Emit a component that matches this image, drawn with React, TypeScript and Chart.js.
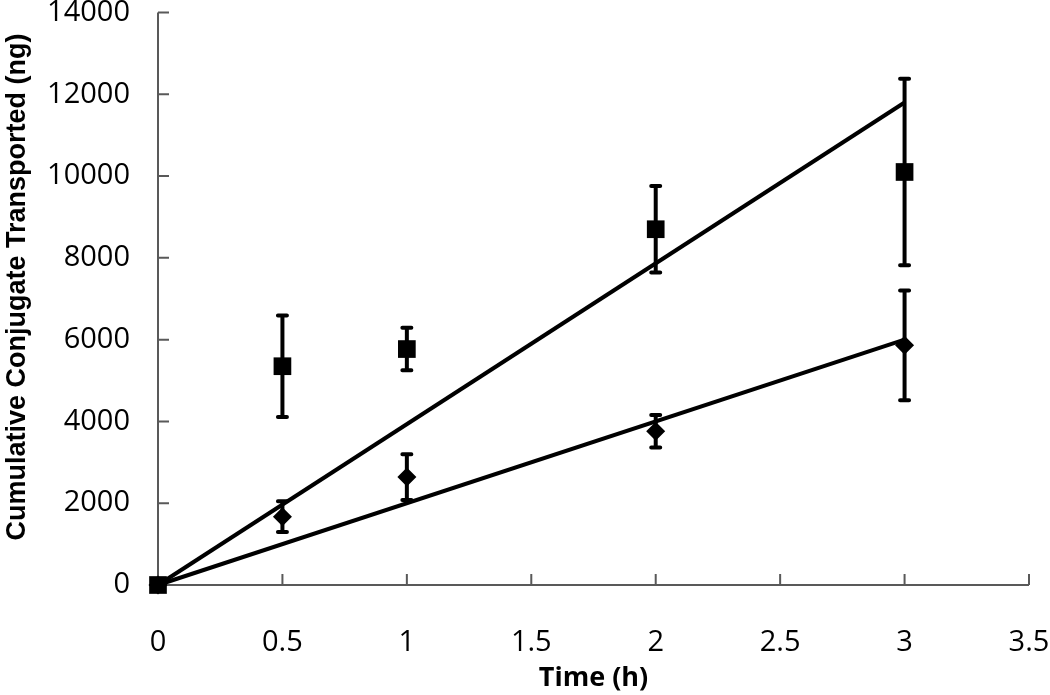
import { useEffect, useRef } from "react";
import { Chart, registerables } from "chart.js";

Chart.register(...registerables);

// Time points (h)
const times = [0, 0.5, 1, 2, 3];
// Square series: mean and error (ng)
const squareMeans = [0, 5350, 5770, 8700, 10100];
const squareErrors = [0, 1240, 520, 1060, 2280];
// Diamond series: mean and error (ng)
const diamondMeans = [0, 1670, 2640, 3760, 5860];
const diamondErrors = [0, 375, 560, 400, 1340];
// Linear trend lines (end points)
const fitTimes = [0, 3];
const squareFit = [0, 11800];
const diamondFit = [0, 6000];
// Axis ranges
const xMin = 0;
const xMax = 3.5;
const xStep = 0.5;
const yMin = 0;
const yMax = 14000;
const yStep = 2000;
const yTitle = "Cumulative Conjugate Transported (ng)";
const xTitle = "Time (h)";

const AXIS_COLOR = "#595959";

const errorBarPlugin = {
  id: "errorBars",
  afterDatasetsDraw(chart: any) {
    const { ctx, scales } = chart;
    const xs = scales.x;
    const ys = scales.y;
    const groups = [
      { means: squareMeans, errs: squareErrors },
      { means: diamondMeans, errs: diamondErrors },
    ];
    ctx.save();
    ctx.strokeStyle = "#000";
    ctx.lineWidth = 4;
    groups.forEach((g) => {
      times.forEach((t, i) => {
        const e = g.errs[i];
        if (!e) return;
        const px = xs.getPixelForValue(t);
        const top = ys.getPixelForValue(g.means[i] + e);
        const bot = ys.getPixelForValue(g.means[i] - e);
        ctx.lineCap = "butt";
        ctx.beginPath();
        ctx.moveTo(px, top);
        ctx.lineTo(px, bot);
        ctx.stroke();
        ctx.lineCap = "round";
        ctx.beginPath();
        ctx.moveTo(px - 4.5, top);
        ctx.lineTo(px + 4.5, top);
        ctx.moveTo(px - 4.5, bot);
        ctx.lineTo(px + 4.5, bot);
        ctx.stroke();
      });
    });
    ctx.restore();
  },
};

const axesPlugin = {
  id: "innerAxes",
  beforeDatasetsDraw(chart: any) {
    const { ctx, scales } = chart;
    const xs = scales.x;
    const ys = scales.y;
    const left = xs.getPixelForValue(xMin);
    const right = xs.getPixelForValue(xMax);
    const bottom = ys.getPixelForValue(yMin);
    const top = ys.getPixelForValue(yMax);
    ctx.save();
    ctx.strokeStyle = AXIS_COLOR;
    ctx.lineWidth = 2;
    ctx.lineCap = "butt";
    ctx.beginPath();
    ctx.moveTo(left, top);
    ctx.lineTo(left, bottom);
    ctx.moveTo(left, bottom);
    ctx.lineTo(right, bottom);
    ys.ticks.forEach((tk: any) => {
      const py = ys.getPixelForValue(tk.value);
      ctx.moveTo(left, py);
      ctx.lineTo(left + 11, py);
    });
    xs.ticks.forEach((tk: any) => {
      const px = xs.getPixelForValue(tk.value);
      ctx.moveTo(px, bottom);
      ctx.lineTo(px, bottom - 11);
    });
    ctx.stroke();
    // y axis title
    ctx.fillStyle = "#000";
    ctx.font = "bold 27px 'Liberation Sans', Arial, sans-serif";
    ctx.textAlign = "center";
    ctx.textBaseline = "middle";
    ctx.translate(18, 287);
    ctx.rotate(-Math.PI / 2);
    ctx.fillText(yTitle, 0, 0);
    ctx.restore();
  },
};

export default function App() {
  const ref = useRef<HTMLCanvasElement | null>(null);

  useEffect(() => {
    if (!ref.current) return;
    const tickFont = { family: "'Open Sans', sans-serif", size: 29 };
    const fmt = (v: any) => String(v);
    const chart = new Chart(ref.current, {
      type: "scatter",
      data: {
        datasets: [
          {
            label: "Square fit",
            data: fitTimes.map((t, i) => ({ x: t, y: squareFit[i] })),
            showLine: true,
            borderColor: "#000",
            borderWidth: 4,
            pointRadius: 0,
            fill: false,
            clip: false,
          },
          {
            label: "Diamond fit",
            data: fitTimes.map((t, i) => ({ x: t, y: diamondFit[i] })),
            showLine: true,
            borderColor: "#000",
            borderWidth: 4,
            pointRadius: 0,
            fill: false,
            clip: false,
          },
          {
            label: "Diamonds",
            data: times.map((t, i) => ({ x: t, y: diamondMeans[i] })),
            pointStyle: "rectRot",
            pointRadius: 9.5,
            backgroundColor: "#000",
            borderColor: "#000",
            borderWidth: 0,
            clip: false,
          },
          {
            label: "Squares",
            data: times.map((t, i) => ({ x: t, y: squareMeans[i] })),
            pointStyle: "rect",
            pointRadius: 12.5,
            backgroundColor: "#000",
            borderColor: "#000",
            borderWidth: 0,
            clip: false,
          },
        ],
      },
      options: {
        animation: false,
        responsive: true,
        maintainAspectRatio: false,
        layout: { padding: { top: 10, right: 21, left: 0, bottom: 0 } },
        plugins: {
          legend: { display: false },
          tooltip: { enabled: false },
        },
        scales: {
          x: {
            type: "linear",
            min: xMin,
            max: xMax,
            grid: { display: false, drawTicks: false },
            border: { display: false },
            ticks: {
              stepSize: xStep,
              color: "#000",
              font: tickFont,
              padding: 40,
              maxRotation: 0,
              callback: fmt,
            },
            title: {
              display: true,
              text: xTitle,
              color: "#000",
              font: { family: "'Open Sans', sans-serif", size: 27, weight: "bold" },
              padding: { top: 0, bottom: 0 },
            },
            afterFit(scale: any) {
              scale.height = 110;
              scale.paddingLeft = 0;
              scale.paddingRight = 0;
            },
          },
          y: {
            type: "linear",
            min: yMin,
            max: yMax,
            grid: { display: false, drawTicks: false },
            border: { display: false },
            ticks: {
              stepSize: yStep,
              color: "#000",
              font: tickFont,
              padding: 28,
              callback: fmt,
            },
            afterFit(scale: any) {
              scale.width = 158;
              scale.paddingTop = 0;
              scale.paddingBottom = 0;
            },
          },
        },
      },
      plugins: [axesPlugin, errorBarPlugin],
    });
    return () => chart.destroy();
  }, []);

  return (
    <div style={{ position: "fixed", left: 0, top: 0, width: "1050px", height: "695px", background: "#fff" }}>
      <canvas ref={ref} />
    </div>
  );
}
